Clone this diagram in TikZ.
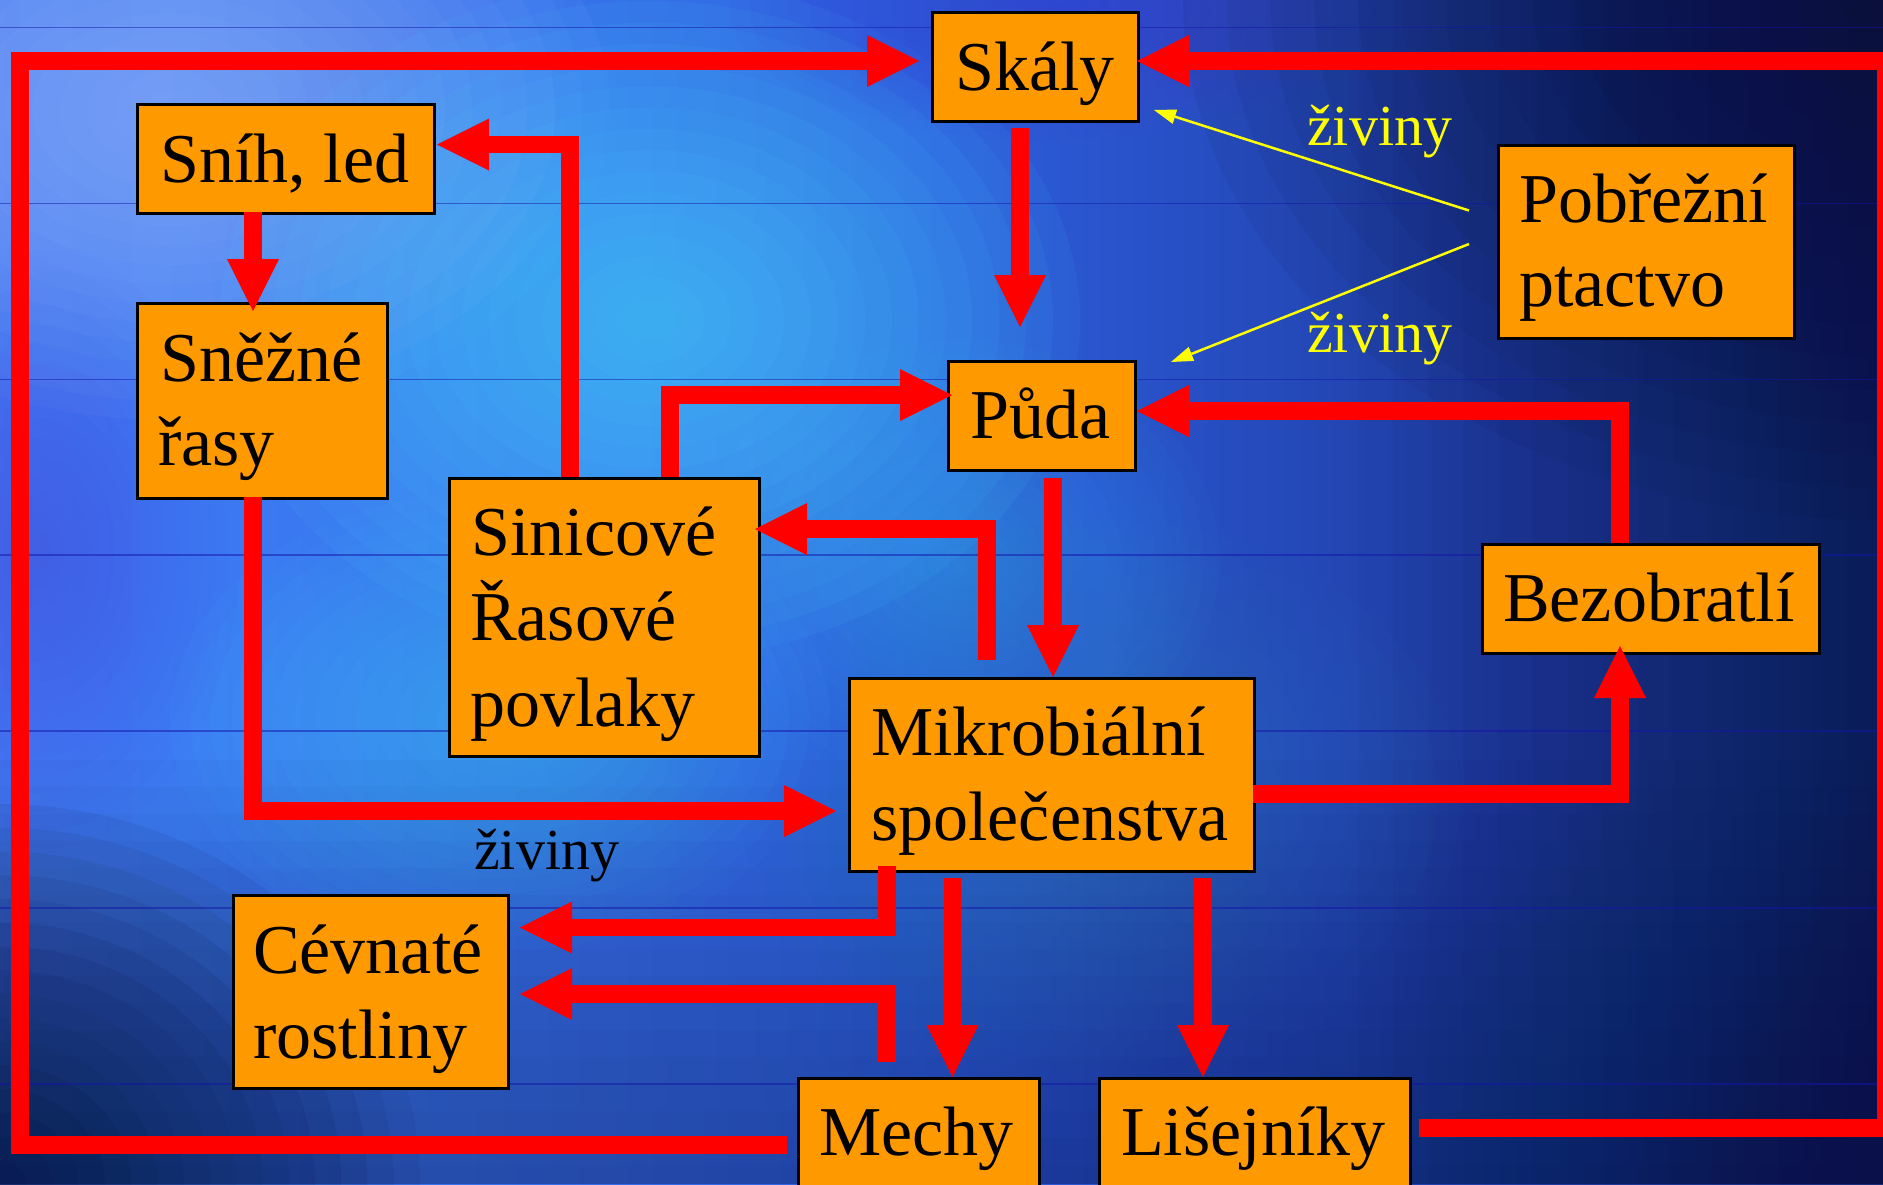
\documentclass[tikz,border=0pt]{standalone}
\usepackage{fontspec}
\setmainfont{Liberation Serif}
\usetikzlibrary{arrows.meta}
\definecolor{boxorange}{HTML}{FF9900}
\definecolor{arrred}{HTML}{FF0000}
\definecolor{ylwarrow}{HTML}{FFFF00}
\definecolor{gridblue}{HTML}{1414A8}
\definecolor{bgA}{HTML}{5E72F6}
\definecolor{bgB}{HTML}{3C7CF4}
\definecolor{bgC}{HTML}{2D5EDE}
\definecolor{bgD}{HTML}{1F3CA2}
\definecolor{bgE}{HTML}{132262}
\definecolor{bgF}{HTML}{0A0D30}
\definecolor{glowcyan}{HTML}{4AD4FF}
\definecolor{glowlight}{HTML}{9CB8FF}
\definecolor{glowteal}{HTML}{2A86B8}
\definecolor{darknavy}{HTML}{0A1036}
\definecolor{purpleblue}{HTML}{4A3CD0}
\pgfdeclarehorizontalshading{bgshade}{100bp}{color(0bp)=(bgA); color(30bp)=(bgB); color(50bp)=(bgC); color(65bp)=(bgD); color(80bp)=(bgE); color(100bp)=(bgF)}
\newcommand\bgglow[6]{%
  \foreach \k in {1,...,16}{%
    \fill[#1, opacity=#2] (#3,#4) ellipse [x radius={#5*\k/16*1pt}, y radius={#6*\k/16*1pt}];
  }%
}
\begin{document}
\begin{tikzpicture}[x=1pt,y=-1pt,
  box/.style={draw=black, line width=3pt, fill=boxorange, inner sep=0pt, anchor=north west},
  txt/.style={font=\fontsize{70}{84}\selectfont, inner sep=0pt, anchor=base west, text=black},
  lbl/.style={font=\fontsize{58}{70}\selectfont, inner sep=0pt, anchor=base west},
  flow/.style={draw=arrred, line width=17.5pt, line join=miter, -{Triangle[length=52pt,width=52pt,line width=0pt]}},
  ylw/.style={draw=ylwarrow, line width=2.5pt, -{Triangle[length=22pt,width=15pt,line width=0pt]}},
  gridline/.style={draw=gridblue, line width=1.5pt, opacity=0.5}
]
\useasboundingbox (0,0) rectangle (1883,1184);
\clip (0,0) rectangle (1883,1184);
% background
\shade[shading=bgshade] (0,0) rectangle (1883,1184);
\bgglow{glowlight}{0.06}{170}{110}{440}{310}
\bgglow{glowcyan}{0.065}{650}{320}{430}{340}
\bgglow{glowcyan}{0.04}{500}{720}{330}{230}
\bgglow{glowcyan}{0.025}{960}{560}{260}{220}
\bgglow{glowteal}{0.03}{1100}{800}{360}{280}
\bgglow{purpleblue}{0.035}{1050}{10}{320}{130}
\bgglow{purpleblue}{0.025}{40}{550}{200}{300}
\bgglow{darknavy}{0.06}{1883}{0}{700}{520}
\bgglow{darknavy}{0.07}{0}{1184}{420}{380}
\foreach \k in {0,...,15}
  \fill[darknavy, opacity=0.022] (0,{760+\k*27}) rectangle (1883,1184);
\foreach \k in {0,...,15}
  \fill[darknavy, opacity=0.03] ({1883-\k*35},0) rectangle (1883,1184);
\foreach \yy in {27.5,203.6,379.6,555,731,908,1084}
  \draw[gridline] (0,\yy) -- (1883,\yy);

% boxes
\node[box, minimum width=206pt, minimum height=109pt] (skaly) at (931,11) {};
\node[box, minimum width=297pt, minimum height=109pt] (snih) at (136,103) {};
\node[box, minimum width=250pt, minimum height=195pt] (snezne) at (136,302) {};
\node[box, minimum width=310pt, minimum height=278pt] (sinic) at (448,477) {};
\node[box, minimum width=187pt, minimum height=109pt] (puda) at (947,360) {};
\node[box, minimum width=296pt, minimum height=193pt] (pob) at (1497,144) {};
\node[box, minimum width=337pt, minimum height=109pt] (bez) at (1481,543) {};
\node[box, minimum width=405pt, minimum height=193pt] (mikro) at (848,677) {};
\node[box, minimum width=275pt, minimum height=193pt] (cev) at (232,894) {};
\node[box, minimum width=241pt, minimum height=140pt] (mechy) at (797,1077) {};
\node[box, minimum width=311pt, minimum height=140pt] (lis) at (1098,1077) {};

% texts
\node[txt] (t-skaly) at (955,90) {Skály};
\node[txt] (t-snih) at (160,182) {Sníh, led};
\node[txt] (t-snezne1) at (160,381.5) {Sněžné};
\node[txt] (t-snezne2) at (158,465) {řasy};
\node[txt] (t-sinic1) at (471,555) {Sinicové};
\node[txt] (t-sinic2) at (470,640) {Řasové};
\node[txt] (t-sinic3) at (470,726) {povlaky};
\node[txt] (t-puda) at (970,438) {Půda};
\node[txt] (t-pob1) at (1519,222) {Pobřežní};
\node[txt] (t-pob2) at (1519,306) {ptactvo};
\node[txt] (t-bez) at (1503,621) {Bezobratlí};
\node[txt] (t-mikro1) at (871,755) {Mikrobiální};
\node[txt] (t-mikro2) at (871,840) {společenstva};
\node[txt] (t-cev1) at (253,973) {Cévnaté};
\node[txt] (t-cev2) at (253,1058) {rostliny};
\node[txt] (t-mechy) at (819,1155) {Mechy};
\node[txt] (t-lis) at (1121,1155) {Lišejníky};

\node[lbl, text=ylwarrow] (l-ziv1) at (1307,145) {živiny};
\node[lbl, text=ylwarrow] (l-ziv2) at (1307,352) {živiny};
\node[lbl, text=black] (l-ziv3) at (474,869) {živiny};

% connector end points
\coordinate (mechyOut) at (787,1145);
\coordinate (skalyIn) at (919,61);
\coordinate (lisOut) at (1419,1128);
\coordinate (skalyInR) at (1137,61);
\coordinate (sinicTopA) at (570,477);
\coordinate (snihIn) at (437,144.5);
\coordinate (snihOut) at (253,212);
\coordinate (sneznIn) at (253,311);
\coordinate (sinicTopB) at (670,477);
\coordinate (pudaInL) at (952,395);
\coordinate (skalyOut) at (1020,128);
\coordinate (pudaInT) at (1020,327);
\coordinate (bezOut) at (1620,543);
\coordinate (pudaInR) at (1137,411);
\coordinate (pudaOut) at (1053,478);
\coordinate (mikroInT) at (1053,677);
\coordinate (mikroOutT) at (987,660);
\coordinate (sinicInR) at (755,529);
\coordinate (sneznOut) at (253,497);
\coordinate (mikroInL) at (836,811);
\coordinate (mikroOutR) at (1253,794);
\coordinate (bezIn) at (1620,646);
\coordinate (mikroOutB1) at (887,866);
\coordinate (cevIn1) at (520,927.5);
\coordinate (mechyOutT) at (887,1061.5);
\coordinate (cevIn2) at (520,994);
\coordinate (mikroOutB2) at (952.5,878);
\coordinate (mechyIn) at (952.5,1077);
\coordinate (mikroOutB3) at (1203,878);
\coordinate (lisIn) at (1203,1077);
\coordinate (pobOut1) at (1469,210.5);
\coordinate (skalyInY) at (1154,110);
\coordinate (pobOut2) at (1469,244);
\coordinate (pudaInY) at (1171,362);

% red connectors
\draw[flow] (mechyOut) -- (20,1145) -- (20,61) -- (skalyIn);
\draw[flow] (lisOut) -- (1886,1128) -- (1886,61) -- (skalyInR);
\draw[flow] (sinicTopA) |- (snihIn);
\draw[flow] (snihOut) -- (sneznIn);
\draw[flow] (sinicTopB) |- (pudaInL);
\draw[flow] (skalyOut) -- (pudaInT);
\draw[flow] (bezOut) |- (pudaInR);
\draw[flow] (pudaOut) -- (mikroInT);
\draw[flow] (mikroOutT) |- (sinicInR);
\draw[flow] (sneznOut) |- (mikroInL);
\draw[flow] (mikroOutR) -| (bezIn);
\draw[flow] (mikroOutB1) |- (cevIn1);
\draw[flow] (mechyOutT) |- (cevIn2);
\draw[flow] (mikroOutB2) -- (mechyIn);
\draw[flow] (mikroOutB3) -- (lisIn);

% yellow connectors
\draw[ylw] (pobOut1) -- (skalyInY);
\draw[ylw] (pobOut2) -- (pudaInY);
\end{tikzpicture}
\end{document}
